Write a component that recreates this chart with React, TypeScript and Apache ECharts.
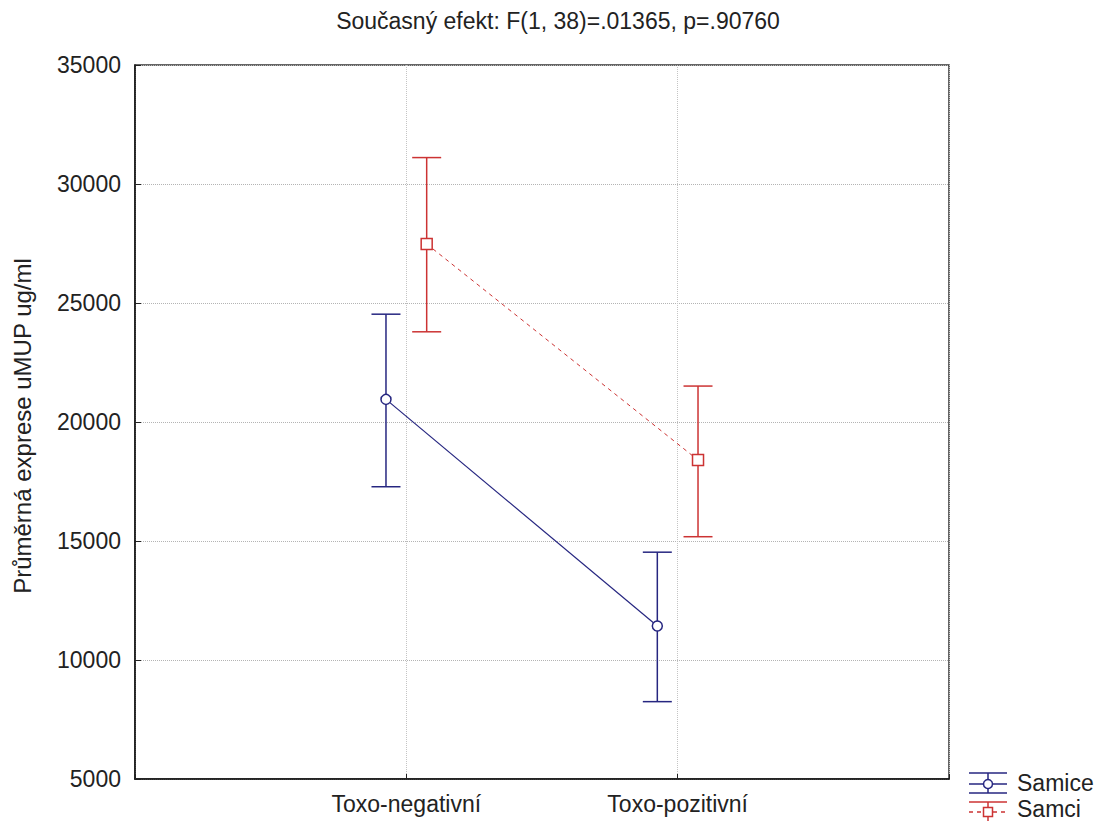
import React, { useEffect, useRef } from "react";
import * as echarts from "echarts";

// Group labels on the x axis (placed at x = 1 and x = 2 of a 0..3 value axis)
const categories = ["Toxo-negativní", "Toxo-pozitivní"];
const yTicks = [5000, 10000, 15000, 20000, 25000, 30000, 35000];

// Samice (females): means and error-bar limits
const samiceMean = [20950, 11430];
const samiceLow = [17280, 8250];
const samiceHigh = [24530, 14530];

// Samci (males): means and error-bar limits
const samciMean = [27480, 18400];
const samciLow = [23790, 15180];
const samciHigh = [31110, 21510];

const BLUE = "#262680";
const RED = "#cc3333";
const FONT = "'Liberation Sans', Arial, sans-serif";
const OFFSET = 0.075;

function pointData(means: number[], shift: number) {
  return means.map((m, i) => [i + 1 + shift, m]);
}
function barData(low: number[], high: number[], shift: number) {
  return low.map((l, i) => [i + 1 + shift, l, high[i]]);
}

function errorBarRenderer(color: string) {
  return (params: any, api: any) => {
    const x = api.value(0);
    const top = api.coord([x, api.value(2)]);
    const bot = api.coord([x, api.value(1)]);
    const hw = 14.5;
    const style = { stroke: color, lineWidth: 1.5, fill: "none" };
    return {
      type: "group",
      children: [
        { type: "line", shape: { x1: top[0], y1: top[1], x2: bot[0], y2: bot[1] }, style },
        { type: "line", shape: { x1: top[0] - hw, y1: top[1], x2: top[0] + hw, y2: top[1] }, style },
        { type: "line", shape: { x1: bot[0] - hw, y1: bot[1], x2: bot[0] + hw, y2: bot[1] }, style },
      ],
    };
  };
}

export default function App() {
  const ref = useRef<HTMLDivElement>(null);

  useEffect(() => {
    if (!ref.current) return;
    const chart = echarts.init(ref.current, null, { renderer: "svg" });

    const legendLine = (x1: number, y1: number, x2: number, y2: number, color: string, dash?: number[]) => ({
      type: "line",
      shape: { x1, y1, x2, y2 },
      style: { stroke: color, lineWidth: 1.5, lineDash: dash },
      z: 10,
    });

    chart.setOption({
      animation: false,
      backgroundColor: "#ffffff",
      textStyle: { fontFamily: FONT },
      grid: {
        left: 135,
        top: 65,
        width: 814,
        height: 714,
        show: true,
        borderColor: "#333",
        borderWidth: 1.5,
        backgroundColor: "#ffffff",
      },
      xAxis: {
        type: "value",
        min: 0,
        max: 3,
        interval: 1,
        axisLine: { show: true, lineStyle: { color: "#111", width: 1.5 } },
        axisTick: { show: true, inside: true, length: 5, lineStyle: { color: "#222" } },
        axisLabel: {
          margin: 13,
          fontSize: 23,
          color: "#222",
          fontFamily: FONT,
          formatter: (v: number) => (v >= 1 && v <= categories.length ? categories[v - 1] : ""),
        },
        splitLine: { show: true, lineStyle: { type: "dotted", color: "#c4c4c4", width: 1 } },
      },
      yAxis: {
        type: "value",
        min: yTicks[0],
        max: yTicks[yTicks.length - 1],
        interval: yTicks[1] - yTicks[0],
        axisLine: { show: true, lineStyle: { color: "#111", width: 1.5 } },
        axisTick: { show: true, inside: true, length: 6, lineStyle: { color: "#222" } },
        axisLabel: {
          margin: 14,
          fontSize: 23,
          color: "#222",
          fontFamily: FONT,
          formatter: (v: number) => String(v),
        },
        splitLine: { show: true, lineStyle: { type: "dotted", color: "#b4b4b4", width: 1 } },
      },
      graphic: [
        {
          type: "text",
          x: 558,
          y: 21,
          style: {
            text: "Současný efekt: F(1, 38)=.01365, p=.90760",
            fontSize: 23,
            fontFamily: FONT,
            fill: "#222",
            align: "center",
            verticalAlign: "middle",
          },
        },
        {
          type: "text",
          x: 22,
          y: 426,
          rotation: Math.PI / 2,
          style: {
            text: "Průměrná exprese uMUP ug/ml",
            fontSize: 24,
            fontFamily: FONT,
            fill: "#222",
            align: "center",
            verticalAlign: "middle",
          },
        },
        // Legend: Samice
        legendLine(969, 773, 1007, 773, BLUE),
        legendLine(969, 793, 1007, 793, BLUE),
        legendLine(988, 773, 988, 793, BLUE),
        legendLine(969, 784, 1007, 784, BLUE),
        {
          type: "circle",
          shape: { cx: 988, cy: 784, r: 4.5 },
          style: { fill: "#fff", stroke: BLUE, lineWidth: 1.5 },
          z: 11,
        },
        {
          type: "text",
          x: 1017,
          y: 783,
          style: { text: "Samice", fontSize: 23, fontFamily: FONT, fill: "#222", verticalAlign: "middle" },
        },
        // Legend: Samci
        legendLine(969, 802, 1007, 802, RED),
        legendLine(988, 802, 988, 822, RED),
        legendLine(969, 812, 1007, 812, RED, [4, 4]),
        {
          type: "rect",
          shape: { x: 983.5, y: 807.5, width: 9, height: 9 },
          style: { fill: "#fff", stroke: RED, lineWidth: 1.5 },
          z: 11,
        },
        {
          type: "text",
          x: 1017,
          y: 809,
          style: { text: "Samci", fontSize: 23, fontFamily: FONT, fill: "#222", verticalAlign: "middle" },
        },
      ],
      series: [
        {
          name: "Samice chyba",
          type: "custom",
          renderItem: errorBarRenderer(BLUE),
          encode: { x: 0, y: [1, 2] },
          data: barData(samiceLow, samiceHigh, -OFFSET),
          z: 2,
        },
        {
          name: "Samci chyba",
          type: "custom",
          renderItem: errorBarRenderer(RED),
          encode: { x: 0, y: [1, 2] },
          data: barData(samciLow, samciHigh, OFFSET),
          z: 2,
        },
        {
          name: "Samice",
          type: "line",
          data: pointData(samiceMean, -OFFSET),
          symbol: "circle",
          symbolSize: 10,
          showAllSymbol: true,
          lineStyle: { color: BLUE, width: 1.2 },
          itemStyle: { color: "#fff", borderColor: BLUE, borderWidth: 1.5 },
          z: 3,
        },
        {
          name: "Samci",
          type: "line",
          data: pointData(samciMean, OFFSET),
          symbol: "rect",
          symbolSize: 11,
          showAllSymbol: true,
          lineStyle: { color: RED, width: 1, type: [4, 4] },
          itemStyle: { color: "#fff", borderColor: RED, borderWidth: 1.5 },
          z: 3,
        },
      ],
    });

    return () => chart.dispose();
  }, []);

  return (
    <div
      ref={ref}
      style={{ position: "fixed", left: 0, top: 0, width: 1104, height: 821, background: "#fff" }}
    />
  );
}
